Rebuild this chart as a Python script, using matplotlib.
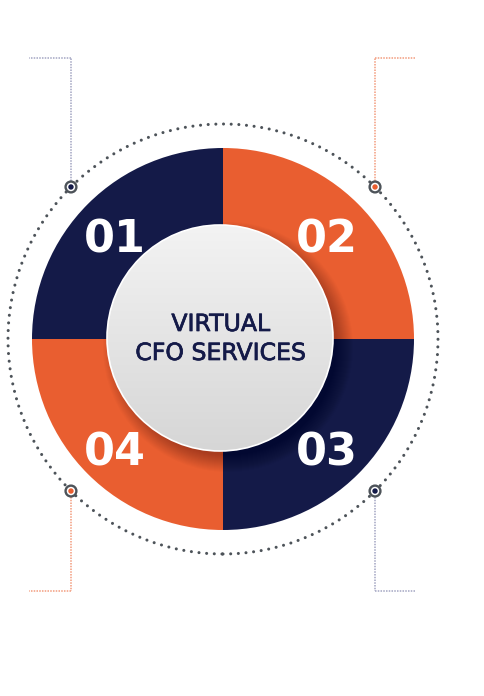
import numpy as np
import matplotlib
matplotlib.use("Agg")
import matplotlib.pyplot as plt
from matplotlib.patches import Circle
from matplotlib.colors import LinearSegmentedColormap
import matplotlib.patheffects as pe

# ---------------- data ----------------
labels = ["01", "02", "03", "04"]
values = [25, 25, 25, 25]
colors = ["#141a48", "#e95e30", "#141a48", "#e95e30"]
marker_colors = ["#141a48", "#e95e30", "#141a48", "#e95e30"]
line_colors = ["#a3a5c2", "#f29c7e", "#a3a5c2", "#f29c7e"]
center_lines = ["VIRTUAL", "CFO SERVICES"]

W, H = 484, 696
def Y(y):
    return H - y

fig = plt.figure(figsize=(W / 100, H / 100), dpi=100)
ax = fig.add_axes([0, 0, 1, 1])

cx, cy = 223, Y(339)
R = 191

# donut quadrants (pie, clockwise from the left)
wedges, _ = ax.pie(values, colors=colors, startangle=180, counterclock=False,
                   radius=R, center=(cx, cy), frame=True,
                   wedgeprops=dict(linewidth=0))
ax.set_aspect("equal")
ax.axis("off")

# number labels at the wedge mid-angles
cum = np.cumsum([0] + values)
for i, lab in enumerate(labels):
    mid = 180 - 360 * (cum[i] + cum[i + 1]) / 2 / sum(values)
    r_lab = 150
    x = cx + r_lab * np.cos(np.radians(mid))
    y = cy + r_lab * np.sin(np.radians(mid))
    ax.text(x - 2, y - 20, lab, color="white", fontsize=32, fontweight="bold",
            family="DejaVu Sans", ha="center", va="baseline", zorder=6)

# dotted outer ring
Rd = 215
ring = Circle((cx, cy), Rd, fill=False, edgecolor="#4d5359", linewidth=2.2,
              linestyle=(0, (0.01, 2.5)), zorder=3)
ring.set_capstyle("round")
ax.add_patch(ring)

# markers & connector lines
angles = [135, 45, -45, -135]
for i, a in enumerate(angles):
    mx = cx + Rd * np.cos(np.radians(a))
    my = cy + Rd * np.sin(np.radians(a))
    ax.add_patch(Circle((mx, my), 5.4, facecolor="white", edgecolor="#4d5359",
                        linewidth=1.7, zorder=5))
    ax.add_patch(Circle((mx, my), 2.7, facecolor=marker_colors[i],
                        edgecolor="none", zorder=6))
    top = a > 0
    ly = Y(58) if top else Y(591)
    y0 = my + 6 if top else my - 6
    hx = mx - 42 if mx < cx else mx + 40
    ax.plot([mx, mx], [y0, ly], color=line_colors[i], lw=1.1,
            linestyle=(0, (1, 0.8)), zorder=2)
    ax.plot([mx, hx], [ly, ly], color=line_colors[i], lw=1.1,
            linestyle=(0, (1, 0.8)), zorder=2)

# center circle soft shadow (lower right)
ccx, ccy, cr = 220, Y(338), 113
for k in range(18):
    ax.add_patch(Circle((ccx + 8, ccy - 9), cr + 12 - k, facecolor="black",
                        edgecolor="none", alpha=0.016, zorder=4))

# center circle with gradient
circ = Circle((ccx, ccy), cr, facecolor="none", edgecolor="white",
              linewidth=1.2, zorder=5.5)
ax.add_patch(circ)
cmap = LinearSegmentedColormap.from_list("g", ["#d6d6d6", "#f3f3f3"])
grad = np.linspace(0, 1, 256).reshape(-1, 1)
im = ax.imshow(grad, cmap=cmap, extent=(ccx - cr, ccx + cr, ccy - cr, ccy + cr),
               origin="lower", aspect="auto", zorder=5)
im.set_clip_path(circ)

for txt, yb in zip(center_lines, [331, 360]):
    ax.text(ccx + 1, Y(yb), txt, color="#141a48", fontsize=17,
            family="DejaVu Sans", ha="center", va="baseline", zorder=7,
            path_effects=[pe.withStroke(linewidth=0.5, foreground="#141a48")])

ax.set_xlim(0, W)
ax.set_ylim(0, H)
fig.savefig("out.png", dpi=100)
